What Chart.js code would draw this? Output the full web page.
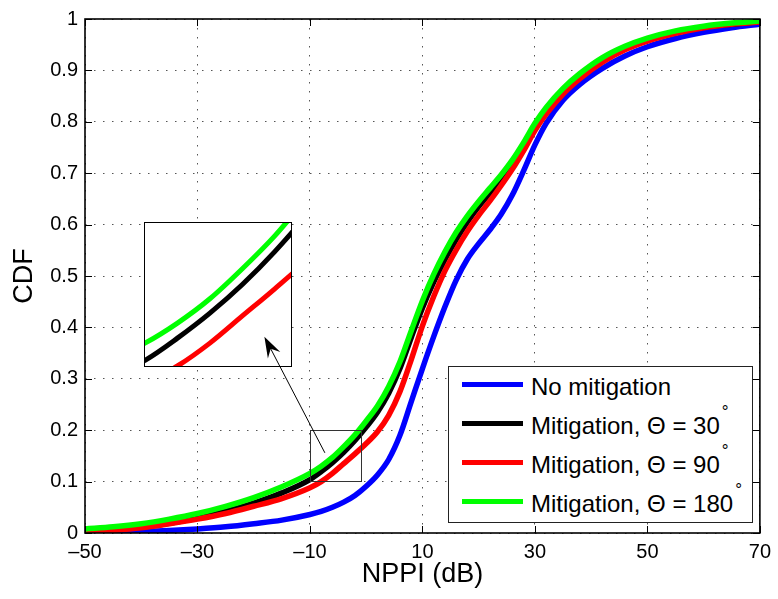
<!DOCTYPE html>
<html>
<head>
<meta charset="utf-8">
<script src="https://cdn.jsdelivr.net/npm/chart.js@4.4.1/dist/chart.umd.min.js"></script>
<style>
  html, body { margin: 0; padding: 0; background: #fff; }
  #wrap { position: relative; width: 778px; height: 599px; overflow: hidden; }
  #main { position: absolute; left: 0; top: 0; }
  #insetBox { position: absolute; left: 144px; top: 222px; width: 148px; height: 145px;
              box-sizing: border-box; border: 1px solid #000; background: #fff; }
  #insetBox canvas { display: block; }
  #legend { position: absolute; left: 448px; top: 366px; width: 305px; height: 157px;
            box-sizing: border-box; border: 1px solid #222; background: #fff;
            font-family: "Liberation Sans", Arial, sans-serif; font-size: 24px; color: #000; }
  .row { position: absolute; left: 0; height: 30px; line-height: 30px; white-space: nowrap; }
  .sample { position: absolute; left: 13px; width: 61px; height: 5px; top: 10px; }
  .txt { position: absolute; left: 82px; top: 0; }
  .deg { font-size: 17px; line-height: 0; position: relative; top: -17px; margin-left: 2px; }
</style>
</head>
<body>
<div id="wrap">
  <canvas id="main" width="778" height="599"></canvas>
  <div id="insetBox"><canvas id="inset" width="146" height="143"></canvas></div>
  <div id="legend"></div>
</div>
<script>
// ---------------- data ----------------
const nppi = [-50,-45,-40,-35,-30,-25,-20,-15,-10,-8,-6,-4,-2,0,2,4,6,8,10,12,14,16,18,20,22,24,26,28,30,32,35,38,42,46,50,55,60,65,70];
const noMitigation  = [0.000,0.001,0.003,0.005,0.008,0.012,0.018,0.025,0.036,0.042,0.050,0.060,0.073,0.091,0.113,0.143,0.190,0.255,0.320,0.382,0.440,0.492,0.533,0.563,0.590,0.620,0.658,0.705,0.755,0.797,0.842,0.873,0.904,0.928,0.946,0.962,0.974,0.983,0.990];
const mitigation30  = [0.004,0.007,0.012,0.019,0.029,0.042,0.058,0.078,0.104,0.1195,0.137,0.157,0.180,0.206,0.235,0.272,0.320,0.380,0.438,0.488,0.532,0.571,0.605,0.635,0.661,0.688,0.718,0.754,0.792,0.824,0.861,0.890,0.921,0.944,0.961,0.975,0.984,0.990,0.995];
const mitigation90  = [0.002,0.005,0.010,0.018,0.027,0.038,0.052,0.067,0.088,0.100,0.116,0.135,0.154,0.174,0.197,0.229,0.275,0.337,0.403,0.460,0.510,0.551,0.587,0.618,0.646,0.676,0.708,0.744,0.783,0.815,0.854,0.884,0.916,0.940,0.957,0.972,0.983,0.990,0.994];
const mitigation180 = [0.008,0.012,0.018,0.027,0.038,0.052,0.069,0.090,0.116,0.130,0.147,0.168,0.191,0.218,0.247,0.285,0.333,0.393,0.452,0.503,0.547,0.585,0.617,0.645,0.671,0.697,0.726,0.760,0.797,0.828,0.865,0.894,0.925,0.947,0.963,0.977,0.986,0.992,0.996];
const seriesLabels = ['No mitigation', 'Mitigation, \u0398 = 30\u00b0', 'Mitigation, \u0398 = 90\u00b0', 'Mitigation, \u0398 = 180\u00b0'];
const xTicks = [-50,-30,-10,10,30,50,70];
const yTicks = [0,0.1,0.2,0.3,0.4,0.5,0.6,0.7,0.8,0.9,1];
const zoomX = [-10, -1];
const zoomY = [0.1, 0.2];
const arrowTail = [-7.35, 0.156];
const arrowHead = [-18.1, 0.382];

// ---------------- styles ----------------
const seriesData = [noMitigation, mitigation30, mitigation90, mitigation180];
const colors = ['#0000ff', '#000000', '#ff0000', '#00ff00'];
const drawOrder = [3, 2, 1, 0]; // green on top, as in the reference
const FONT = '"Liberation Sans", Arial, sans-serif';

function makeDatasets(width) {
  return seriesData.map((arr, i) => ({
    label: seriesLabels[i],
    data: nppi.map((x, k) => ({ x: x, y: arr[k] })),
    borderColor: colors[i],
    backgroundColor: colors[i],
    borderWidth: width,
    pointRadius: 0,
    fill: false,
    cubicInterpolationMode: 'monotone',
    order: drawOrder[i]
  }));
}

const fmtX = v => (v < 0 ? '\u2013' + Math.abs(v) : String(v));
const fmtY = v => String(+Number(v).toFixed(1));

function drawArrow(ctx, xs, ys, ox, oy) {
  const tx = xs.getPixelForValue(arrowTail[0]) - ox, ty = ys.getPixelForValue(arrowTail[1]) - oy;
  const hx = xs.getPixelForValue(arrowHead[0]) - ox, hy = ys.getPixelForValue(arrowHead[1]) - oy;
  const len = Math.hypot(hx - tx, hy - ty);
  const dx = (hx - tx) / len, dy = (hy - ty) / len;
  const nx = -dy, ny = dx;
  const L = 21, W = 7;
  ctx.save();
  ctx.strokeStyle = '#000';
  ctx.lineWidth = 1;
  ctx.beginPath();
  ctx.moveTo(tx, ty);
  ctx.lineTo(hx - dx * L * 0.6, hy - dy * L * 0.6);
  ctx.stroke();
  ctx.fillStyle = '#000';
  ctx.beginPath();
  ctx.moveTo(hx, hy);
  ctx.lineTo(hx - dx * L + nx * W, hy - dy * L + ny * W);
  ctx.lineTo(hx - dx * L * 0.65, hy - dy * L * 0.65);
  ctx.lineTo(hx - dx * L - nx * W, hy - dy * L - ny * W);
  ctx.closePath();
  ctx.fill();
  ctx.restore();
}

const framePlugin = {
  id: 'frame',
  afterDatasetsDraw(chart) {
    const { ctx, scales: { x, y } } = chart;
    ctx.save();
    const x0 = x.getPixelForValue(zoomX[0]), x1 = x.getPixelForValue(zoomX[1]);
    const y0 = y.getPixelForValue(zoomY[0]), y1 = y.getPixelForValue(zoomY[1]);
    ctx.strokeStyle = '#333';
    ctx.lineWidth = 1;
    ctx.strokeRect(Math.round(x0) + 0.5, Math.round(y1) + 0.5, Math.round(x1 - x0), Math.round(y0 - y1));
    ctx.restore();
    drawArrow(ctx, x, y, 0, 0);
  },
  afterDraw(chart) {
    const { ctx, chartArea: a, scales: { x, y } } = chart;
    ctx.save();
    ctx.strokeStyle = '#000';
    ctx.lineWidth = 1;
    const T = 7;
    ctx.beginPath();
    x.ticks.forEach(t => {
      const p = Math.round(x.getPixelForValue(t.value)) + 0.5;
      ctx.moveTo(p, a.bottom); ctx.lineTo(p, a.bottom - T);
      ctx.moveTo(p, a.top); ctx.lineTo(p, a.top + T);
    });
    y.ticks.forEach(t => {
      const p = Math.round(y.getPixelForValue(t.value)) + 0.5;
      ctx.moveTo(a.left, p); ctx.lineTo(a.left + T, p);
      ctx.moveTo(a.right, p); ctx.lineTo(a.right - T, p);
    });
    ctx.stroke();
    ctx.lineWidth = 1.6;
    ctx.strokeRect(a.left, a.top, a.right - a.left, a.bottom - a.top);
    ctx.restore();
  }
};

const mainChart = new Chart(document.getElementById('main'), {
  type: 'line',
  data: { datasets: makeDatasets(5.5) },
  options: {
    responsive: false,
    animation: false,
    devicePixelRatio: 1,
    layout: { padding: { left: 0, right: 15, top: 15, bottom: 0 } },
    plugins: { legend: { display: false }, tooltip: { enabled: false } },
    scales: {
      x: {
        type: 'linear', min: -50, max: 70,
        afterBuildTicks: s => { s.ticks = xTicks.map(v => ({ value: v })); },
        afterFit: s => { s.height = 66; },
        grid: { color: '#555', lineWidth: 1, drawTicks: false, tickLength: 0 },
        border: { display: false, dash: [1.5, 7.5] },
        ticks: { color: '#000', padding: 7, font: { family: FONT, size: 20 }, maxRotation: 0, callback: fmtX },
        title: { display: true, text: 'NPPI (dB)', color: '#000', font: { family: FONT, size: 27 }, padding: { top: 0, bottom: 8 } }
      },
      y: {
        type: 'linear', min: 0, max: 1,
        afterBuildTicks: s => { s.ticks = yTicks.map(v => ({ value: v })); },
        afterFit: s => { s.width = 85; },
        grid: { color: '#555', lineWidth: 1, drawTicks: false, tickLength: 0 },
        border: { display: false, dash: [1.5, 7.5] },
        ticks: { color: '#000', padding: 7, font: { family: FONT, size: 20 }, callback: fmtY },
        title: { display: true, text: 'CDF', color: '#000', font: { family: FONT, size: 27 }, padding: { top: 8, bottom: 0 } }
      }
    }
  },
  plugins: [framePlugin]
});

// inset (magnified view of the zoom window); the arrow tip continues onto it
const insetCanvas = document.getElementById('inset');
const insetArrow = {
  id: 'insetArrow',
  afterDraw(chart) {
    const box = document.getElementById('insetBox');
    const ox = box.offsetLeft + box.clientLeft, oy = box.offsetTop + box.clientTop;
    drawArrow(chart.ctx, mainChart.scales.x, mainChart.scales.y, ox, oy);
  }
};
new Chart(insetCanvas, {
  type: 'line',
  data: { datasets: makeDatasets(5) },
  options: {
    responsive: false,
    animation: false,
    devicePixelRatio: 1,
    layout: { padding: 0 },
    plugins: { legend: { display: false }, tooltip: { enabled: false } },
    scales: {
      x: { type: 'linear', min: zoomX[0], max: zoomX[1], display: false },
      y: { type: 'linear', min: zoomY[0], max: zoomY[1], display: false }
    }
  },
  plugins: [insetArrow]
});

// HTML legend built from the chart's datasets
(function buildLegend(chart) {
  const box = document.getElementById('legend');
  const rowTops = [5, 44, 83, 122];
  chart.data.datasets.forEach((ds, i) => {
    const row = document.createElement('div');
    row.className = 'row';
    row.style.top = rowTops[i] + 'px';
    const sw = document.createElement('div');
    sw.className = 'sample';
    sw.style.background = ds.borderColor;
    const tx = document.createElement('span');
    tx.className = 'txt';
    const label = ds.label;
    if (label.endsWith('\u00b0')) {
      tx.appendChild(document.createTextNode(label.slice(0, -1)));
      const s = document.createElement('span');
      s.className = 'deg';
      s.textContent = '\u00b0';
      tx.appendChild(s);
    } else {
      tx.textContent = label;
    }
    row.appendChild(sw);
    row.appendChild(tx);
    box.appendChild(row);
  });
})(mainChart);
</script>
</body>
</html>
